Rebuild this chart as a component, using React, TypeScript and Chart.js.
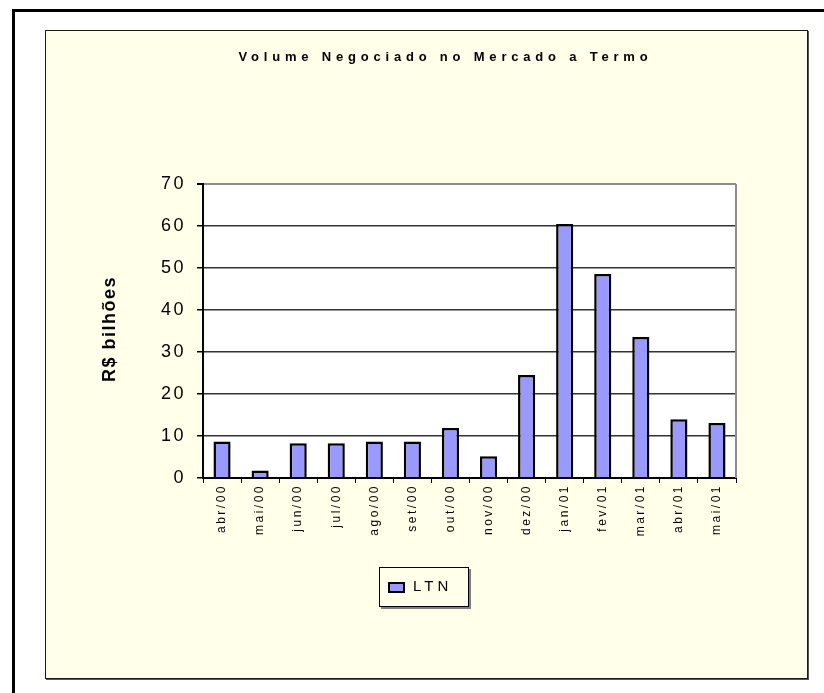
import React, { useEffect, useRef } from "react";
import { Chart, registerables } from "chart.js";

Chart.register(...registerables);

const categories = [
  "abr/00", "mai/00", "jun/00", "jul/00", "ago/00", "set/00", "out/00",
  "nov/00", "dez/00", "jan/01", "fev/01", "mar/01", "abr/01", "mai/01",
];
const ltnValues = [8.7, 1.8, 8.3, 8.3, 8.7, 8.7, 11.9, 5.2, 24.5, 60.5, 48.6, 33.6, 14.0, 13.1];
const yMin = 0;
const yMax = 70;
const yStep = 10;
const chartTitle = "Volume Negociado no Mercado a Termo";
const yAxisTitle = "R$ bilhões";
const seriesName = "LTN";

const CREAM = "#FFFFEA";
const BAR = "#9999FF";
const FONT = "'Liberation Sans', Arial, Helvetica, sans-serif";

const CANVAS_W = 763;
const CANVAS_H = 649;

export default function App() {
  const ref = useRef<HTMLCanvasElement>(null);

  useEffect(() => {
    const canvas = ref.current;
    if (!canvas) return;

    const decor = {
      id: "decor",
      beforeDraw(chart: any) {
        const { ctx, chartArea: a } = chart;
        ctx.save();
        ctx.fillStyle = "#ffffff";
        ctx.fillRect(a.left, a.top, a.right - a.left, a.bottom - a.top);
        ctx.restore();
        ctx.letterSpacing = "2.5px";
      },
      afterDraw(chart: any) {
        const { ctx, chartArea: a } = chart;
        ctx.save();
        ctx.strokeStyle = "#8c8c8c";
        ctx.lineWidth = 2;
        ctx.beginPath();
        ctx.moveTo(a.right, a.top);
        ctx.lineTo(a.right, a.bottom);
        ctx.stroke();

        ctx.fillStyle = "#000";
        ctx.letterSpacing = "4.8px";
        ctx.font = `bold 13px ${FONT}`;
        ctx.textAlign = "center";
        ctx.textBaseline = "middle";
        ctx.fillText(chartTitle, chart.width / 2 + 19, 27);

        ctx.save();
        ctx.letterSpacing = "1.5px";
        ctx.font = `bold 18px ${FONT}`;
        ctx.translate(65, (a.top + a.bottom) / 2 - 2);
        ctx.rotate(-Math.PI / 2);
        ctx.textAlign = "center";
        ctx.textBaseline = "middle";
        ctx.fillText(yAxisTitle, 0, 0);
        ctx.restore();

        const lw = 90;
        const lh = 40;
        const lx = Math.round(chart.width / 2 - lw / 2 - 3);
        const ly = 537;
        ctx.fillStyle = "#808080";
        ctx.fillRect(lx + 2, ly + 2, lw, lh);
        ctx.fillStyle = CREAM;
        ctx.fillRect(lx, ly, lw, lh);
        ctx.strokeStyle = "#000";
        ctx.lineWidth = 1;
        ctx.strokeRect(lx + 0.5, ly + 0.5, lw - 1, lh - 1);
        ctx.fillStyle = BAR;
        ctx.fillRect(lx + 9, ly + 15, 17, 11);
        ctx.lineWidth = 2;
        ctx.strokeRect(lx + 10, ly + 16, 15, 9);
        ctx.fillStyle = "#000";
        ctx.letterSpacing = "4px";
        ctx.font = `15px ${FONT}`;
        ctx.textAlign = "left";
        ctx.textBaseline = "middle";
        ctx.fillText(chart.data.datasets[0].label, lx + 34, ly + 20);

        ctx.restore();
        ctx.letterSpacing = "0px";
      },
    };

    const chart = new Chart(canvas, {
      type: "bar",
      data: {
        labels: categories,
        datasets: [
          {
            label: seriesName,
            data: ltnValues,
            backgroundColor: BAR,
            borderColor: "#000",
            borderWidth: 2.5,
            borderSkipped: "start",
            barPercentage: 0.45,
            categoryPercentage: 1,
          },
        ],
      },
      options: {
        responsive: false,
        animation: false,
        layout: { padding: { left: 0, right: 72, top: 154, bottom: 0 } },
        plugins: {
          legend: { display: false },
          title: { display: false },
          tooltip: { enabled: false },
        },
        scales: {
          x: {
            afterFit: (s: any) => {
              s.height = 201;
            },
            grid: {
              display: true,
              drawOnChartArea: false,
              drawTicks: true,
              tickLength: 5,
              color: "#000",
              tickColor: "#000",
              lineWidth: 1,
              offset: true,
            },
            border: { display: true, color: "#000", width: 2 },
            ticks: {
              autoSkip: false,
              minRotation: 90,
              maxRotation: 90,
              padding: 1,
              color: "#000",
              font: { family: FONT, size: 12 },
            },
          },
          y: {
            min: yMin,
            max: yMax,
            afterFit: (s: any) => {
              s.width = 158;
            },
            grid: {
              drawTicks: true,
              tickLength: 6,
              tickColor: "#000",
              color: (c: any) =>
                c.tick && c.tick.value === yMax ? "#8c8c8c" : c.tick && c.tick.value === yMin ? "#000" : "#333333",
              lineWidth: (c: any) => (c.tick && c.tick.value === yMax ? 2 : 1.5),
            },
            border: { display: true, color: "#000", width: 2 },
            ticks: {
              stepSize: yStep,
              padding: 11,
              color: "#000",
              font: { family: FONT, size: 18 },
            },
          },
        },
      },
      plugins: [decor],
    });

    return () => chart.destroy();
  }, []);

  return (
    <div
      style={{
        position: "absolute",
        left: 0,
        top: 0,
        width: 824,
        height: 693,
        overflow: "hidden",
        background: "#fff",
      }}
    >
      <div
        style={{
          position: "absolute",
          left: 12,
          top: 9,
          width: 812,
          height: 684,
          boxSizing: "border-box",
          borderTop: "3px solid #000",
          borderLeft: "3px solid #000",
        }}
      />
      <div
        style={{
          position: "absolute",
          left: 45,
          top: 30,
          width: CANVAS_W,
          height: CANVAS_H,
          boxSizing: "border-box",
          border: "1px solid #1a1a1a",
          boxShadow: "1px 1px 0 #555",
          background: CREAM,
        }}
      />
      <canvas
        ref={ref}
        width={CANVAS_W}
        height={CANVAS_H}
        style={{ position: "absolute", left: 45, top: 30, width: CANVAS_W, height: CANVAS_H }}
      />
    </div>
  );
}
